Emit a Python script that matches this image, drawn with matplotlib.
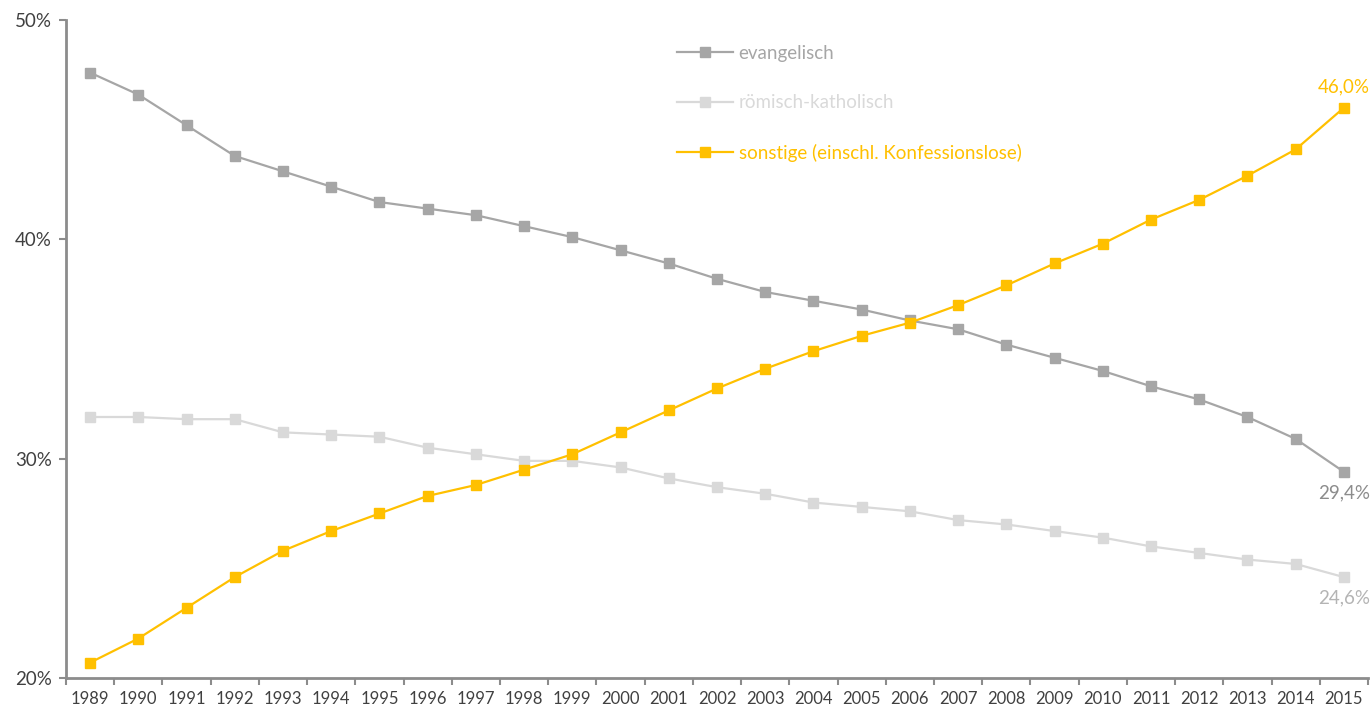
import numpy as np
import matplotlib.pyplot as plt
from matplotlib.ticker import FixedLocator, FuncFormatter

plt.rcParams['font.family'] = ['Lato', 'DejaVu Sans']

years = list(range(1989, 2016))

evangelisch = [47.6, 46.6, 45.2, 43.8, 43.1, 42.4, 41.7, 41.4, 41.1, 40.6,
               40.1, 39.5, 38.9, 38.2, 37.6, 37.2, 36.8, 36.3, 35.9, 35.2,
               34.6, 34.0, 33.3, 32.7, 31.9, 30.9, 29.4]
katholisch = [31.9, 31.9, 31.8, 31.8, 31.2, 31.1, 31.0, 30.5, 30.2, 29.9,
              29.9, 29.6, 29.1, 28.7, 28.4, 28.0, 27.8, 27.6, 27.2, 27.0,
              26.7, 26.4, 26.0, 25.7, 25.4, 25.2, 24.6]
sonstige = [20.7, 21.8, 23.2, 24.6, 25.8, 26.7, 27.5, 28.3, 28.8, 29.5,
            30.2, 31.2, 32.2, 33.2, 34.1, 34.9, 35.6, 36.2, 37.0, 37.9,
            38.9, 39.8, 40.9, 41.8, 42.9, 44.1, 46.0]

series = [
    ('evangelisch', evangelisch, '#a6a6a6'),
    ('römisch-katholisch', katholisch, '#d9d9d9'),
    ('sonstige (einschl. Konfessionslose)', sonstige, '#ffc000'),
]

fig = plt.figure(figsize=(13.72, 7.07), dpi=100)
ax = fig.add_axes([66 / 1372, 29 / 707, 1302 / 1372, 658 / 707])

x = np.arange(len(years))
for name, vals, col in series:
    ax.plot(x, vals, color=col, lw=1.6, marker='s', ms=6.5, label=name)

# end labels for the last year
ax.annotate('46,0%', (x[-1], sonstige[-1]), xytext=(0, 9), textcoords='offset points',
            ha='center', va='bottom', color='#ffc000', fontsize=13.5)
ax.annotate('29,4%', (x[-1], evangelisch[-1]), xytext=(0, -9), textcoords='offset points',
            ha='center', va='top', color='#8c8c8c', fontsize=13.5)
ax.annotate('24,6%', (x[-1], katholisch[-1]), xytext=(0, -9), textcoords='offset points',
            ha='center', va='top', color='#b4b4b4', fontsize=13.5)

ax.set_xlim(-0.5, len(years) - 0.5)
ax.set_ylim(20, 50)
ax.set_yticks([20, 30, 40, 50])
ax.yaxis.set_major_formatter(FuncFormatter(lambda v, p: f'{v:.0f}%'))

# category axis: ticks between years, labels at year centres
ax.xaxis.set_major_locator(FixedLocator(np.arange(-0.5, len(years), 1.0)))
ax.xaxis.set_minor_locator(FixedLocator(x))
ax.set_xticklabels([])
ax.set_xticks(x, [str(y) for y in years], minor=True)
ax.tick_params(axis='x', which='major', length=5, width=1.5, color='#8c8c8c')
ax.tick_params(axis='x', which='minor', length=0, pad=9, labelsize=12, labelcolor='#404040')
ax.tick_params(axis='y', length=5, width=1.5, color='#8c8c8c', labelsize=13.5,
               labelcolor='#404040', pad=5)

for side in ['top', 'right']:
    ax.spines[side].set_visible(False)
for side in ['left', 'bottom']:
    ax.spines[side].set_color('#8c8c8c')
    ax.spines[side].set_linewidth(2)

ax.legend(loc='upper left', bbox_to_anchor=(0.469, 0.962), frameon=False,
          labelcolor='linecolor', fontsize=13.5, handlelength=3.0, handletextpad=0.3,
          labelspacing=1.72, borderaxespad=0, borderpad=0)

fig.savefig('out.png', dpi=100)
